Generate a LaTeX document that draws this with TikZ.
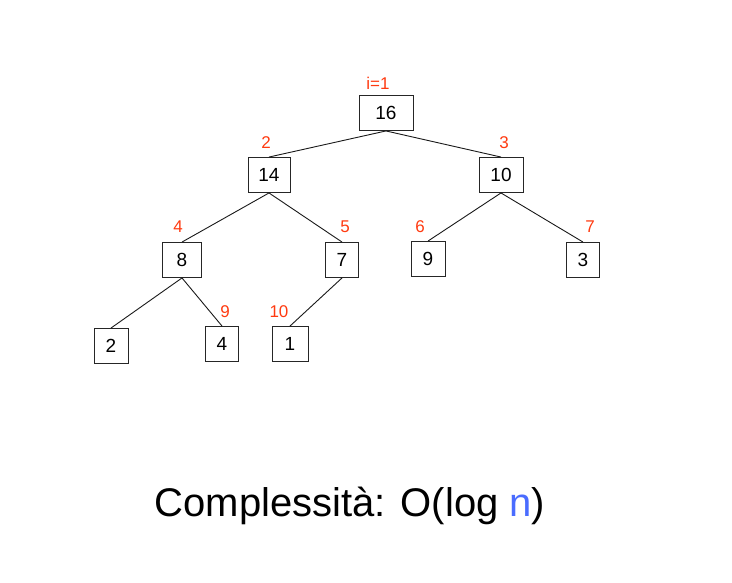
\documentclass[tikz,border=0pt]{standalone}
\usepackage{fontspec}
\setmainfont{Liberation Sans}
\definecolor{lbl}{HTML}{FF3A10}
\definecolor{nblue}{HTML}{4A6CFF}
\begin{document}
\begin{tikzpicture}[x=1pt,y=-1pt,
  keybox/.style={draw=black!85,line width=0.9pt,inner sep=0pt,minimum height=35pt,font=\fontsize{19}{19}\selectfont},
  idx/.style={text=lbl,inner sep=0pt,font=\fontsize{17}{17}\selectfont},
  edge/.style={draw=black!90,line width=0.9pt}]
\useasboundingbox (0,0) rectangle (732,583);
\node[keybox,minimum width=54pt] (n1) at (386,113) {16};
\node[keybox,minimum width=42pt] (n2) at (269,175) {14};
\node[keybox,minimum width=44pt] (n3) at (501,175) {10};
\node[keybox,minimum width=39pt] (n4) at (182,260) {8};
\node[keybox,minimum width=33pt] (n5) at (342,260) {7};
\node[keybox,minimum width=34pt] (n6) at (428,259) {9};
\node[keybox,minimum width=33pt] (n7) at (583,260) {3};
\node[keybox,minimum width=34pt] (n8) at (111,346) {2};
\node[keybox,minimum width=33pt] (n9) at (222,344) {4};
\node[keybox,minimum width=36pt] (n10) at (290,344) {1};
\draw[edge] (n1.south) -- (n2.north);
\draw[edge] (n1.south) -- (n3.north);
\draw[edge] (n2.south) -- (n4.north);
\draw[edge] (n2.south) -- (n5.north);
\draw[edge] (n3.south) -- (n6.north);
\draw[edge] (n3.south) -- (n7.north);
\draw[edge] (n4.south) -- (n8.north);
\draw[edge] (n4.south) -- (n9.north);
\draw[edge] (n5.south) -- (n10.north);
\node[idx] (l1) at (378,83) {i=1};
\node[idx] (l2) at (266,143) {2};
\node[idx] (l3) at (504,143) {3};
\node[idx] (l4) at (178,227) {4};
\node[idx] (l5) at (345,227) {5};
\node[idx] (l6) at (420,227) {6};
\node[idx] (l7) at (590,227) {7};
\node[idx] (l9) at (225,312) {9};
\node[idx] (l10) at (279,312) {10};
\node[inner sep=0pt,font=\fontsize{40}{40}\selectfont] (cap) at (350,506) {Complessità: O(log \textcolor{nblue}{n})};
\end{tikzpicture}
\end{document}
